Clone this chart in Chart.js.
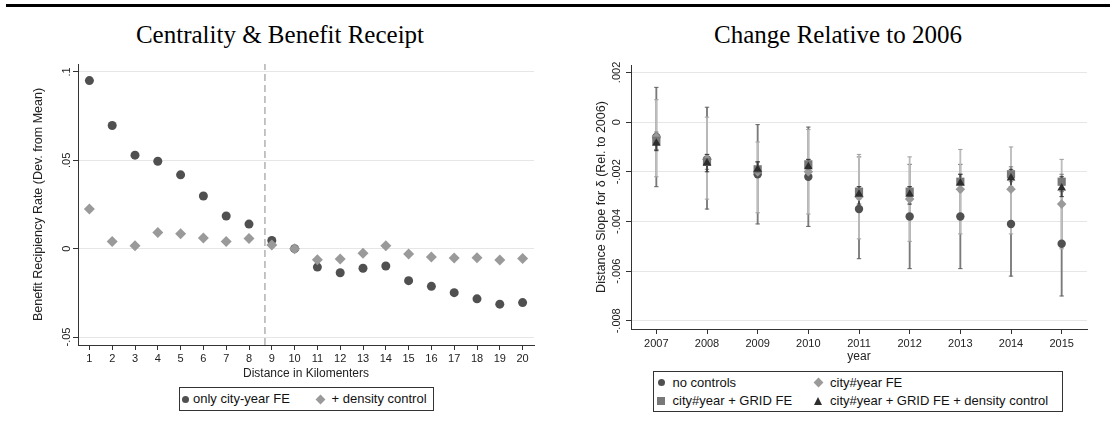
<!DOCTYPE html>
<html><head><meta charset="utf-8">
<script src="https://cdn.jsdelivr.net/npm/chart.js@4/dist/chart.umd.min.js"></script>
<style>
html,body{margin:0;padding:0;background:#fff;width:1110px;height:443px;overflow:hidden;font-family:"Liberation Sans",Arial,sans-serif;}
.rule{position:absolute;left:6px;right:0;top:4px;height:3px;background:#000;}
.title{position:absolute;top:20px;line-height:30px;font-family:"Liberation Serif",serif;font-size:25px;color:#000;transform:translateX(-50%);white-space:nowrap;}
canvas{position:absolute;}
.legend{position:absolute;border:1px solid #333;box-sizing:border-box;}
.item{position:absolute;font-size:13px;line-height:16px;white-space:nowrap;color:#111;transform:translateY(-50%);}
.mk{position:absolute;}
</style></head>
<body>
<div class="rule"></div>
<div class="title" style="left:280px">Centrality &amp; Benefit Receipt</div>
<div class="title" style="left:838px">Change Relative to 2006</div>
<canvas id="c1" width="555" height="385" style="left:0;top:0"></canvas>
<canvas id="c2" width="555" height="370" style="left:555px;top:0"></canvas>
<div id="leg1" class="legend" style="left:179px;top:387px;width:255px;height:24px"></div>
<div id="leg2" class="legend" style="left:653px;top:371px;width:410px;height:41px"></div>
<script>
// ---------- Left panel data ----------
const distances = [1,2,3,4,5,6,7,8,9,10,11,12,13,14,15,16,17,18,19,20];
const onlyCityYearFE = [0.0951,0.0697,0.0529,0.0495,0.0418,0.0298,0.0185,0.0139,0.0047,0,-0.0104,-0.0136,-0.0111,-0.0098,-0.0181,-0.0213,-0.0249,-0.0284,-0.0314,-0.0305];
const plusDensity = [0.0224,0.0040,0.0017,0.0092,0.0085,0.0060,0.0041,0.0058,0.0021,0,-0.0062,-0.0058,-0.0026,0.0017,-0.0030,-0.0047,-0.0053,-0.0051,-0.0064,-0.0056];
const cutoffKm = 8.7;
const leftYTicks = [-0.05,0,0.05,0.1];
const leftYLabels = ['-.05','0','.05','.1'];
const leftLegendLabels = ['only city-year FE','+ density control'];

// ---------- Right panel data ----------
const years = [2007,2008,2009,2010,2011,2012,2013,2014,2015];
const noControls   = [-0.0006,-0.0015,-0.0021,-0.0022,-0.0035,-0.0038,-0.0038,-0.0041,-0.0049];
const noControlsLo = [-0.0026,-0.0035,-0.0041,-0.0042,-0.0055,-0.0059,-0.0059,-0.0062,-0.0070];
const noControlsHi = [0.0014,0.0006,-0.0001,-0.0002,-0.0014,-0.0017,-0.0017,-0.0020,-0.0028];
const cityYearFE   = [-0.0006,-0.0015,-0.0020,-0.0020,-0.0030,-0.0031,-0.0027,-0.0027,-0.0033];
const cityYearFELo = [-0.0022,-0.0031,-0.00365,-0.0037,-0.0047,-0.0048,-0.0045,-0.0045,-0.0051];
const cityYearFEHi = [0.0009,0.0002,-0.0008,-0.0003,-0.0013,-0.0014,-0.0011,-0.0010,-0.0015];
const gridFE       = [-0.00075,-0.0016,-0.0019,-0.0017,-0.0028,-0.0028,-0.0024,-0.0021,-0.0024];
const gridFELo     = [-0.0011,-0.0019,-0.0022,-0.0020,-0.0031,-0.0031,-0.0027,-0.0024,-0.0027];
const gridFEHi     = [-0.0004,-0.0013,-0.0016,-0.0015,-0.0026,-0.0026,-0.0021,-0.0018,-0.0021];
const densityCtl   = [-0.00085,-0.00165,-0.0019,-0.0018,-0.0029,-0.0029,-0.00245,-0.00225,-0.00265];
const densityCtlLo = [-0.00115,-0.0020,-0.0022,-0.0021,-0.0033,-0.0033,-0.0028,-0.0026,-0.0030];
const densityCtlHi = [-0.0005,-0.0013,-0.0016,-0.0015,-0.0026,-0.0026,-0.0021,-0.0019,-0.0022];
const rightYTicks = [-0.008,-0.006,-0.004,-0.002,0,0.002];
const rightYLabels = ['-.008','-.006','-.004','-.002','0','.002'];
const rightLegendLabels = ['no controls','city#year FE','city#year + GRID FE','city#year + GRID FE + density control'];

// ---------- styling ----------
const FAM = '"Liberation Sans", Arial, sans-serif';
const AX = '#333';
const TXT = '#222';
const GRID = '#e6e6e6';
const C_CIRCLE = '#505050', C_DIAMOND = '#9a9a9a', C_SQUARE = '#787878', C_TRI = '#2e2e2e';

function yAxis(min,max,ticks,labels,text,titlePad,width){
  return {
    type:'linear', position:'left', min:min, max:max,
    afterBuildTicks:s=>{ s.ticks = ticks.map(v=>({value:v})); },
    afterFit:s=>{ s.width = width; },
    ticks:{ callback:(v)=>labels[ticks.indexOf(v)], minRotation:90, maxRotation:90, crossAlign:'center',
            padding:-3.5, font:{size:11,family:FAM}, color:TXT, autoSkip:false },
    grid:{ color:GRID, lineWidth:1, tickColor:AX, tickLength:5, drawTicks:true, offset:false },
    border:{ color:AX, width:1 },
    title:{ display:true, text:text, font:{size:12.5,family:FAM}, color:TXT, padding:{top:titlePad,bottom:0} }
  };
}
function xAxis(min,max,ticks,text,height,tickPad,titlePadBottom){
  return {
    type:'linear', position:'bottom', min:min, max:max, offset:false,
    afterBuildTicks:s=>{ s.ticks = ticks.map(v=>({value:v})); },
    afterFit:s=>{ s.height = height; },
    ticks:{ callback:v=>String(v), maxRotation:0, minRotation:0, autoSkip:false, padding:tickPad,
            font:{size:11,family:FAM}, color:TXT },
    grid:{ drawOnChartArea:false, tickColor:AX, tickLength:5, offset:false },
    border:{ color:AX, width:1 },
    title:{ display:true, text:text, font:{size:12,family:FAM}, color:TXT, padding:{top:0,bottom:titlePadBottom} }
  };
}
const common = {
  responsive:false, devicePixelRatio:1, animation:false,
  plugins:{ legend:{display:false}, tooltip:{enabled:false} },
  events:[]
};

// ---------- Left chart ----------
const L_YMIN = -0.0545, L_YMAX = 0.1045;
new Chart(document.getElementById('c1'), {
  type:'scatter',
  data:{ datasets:[
    { type:'line', data:[{x:cutoffKm,y:L_YMIN},{x:cutoffKm,y:L_YMAX}], borderColor:'#8a8a8a', borderWidth:1,
      borderDash:[7,4], pointRadius:0, order:5 },
    { label:leftLegendLabels[0], data:distances.map((d,i)=>({x:d,y:onlyCityYearFE[i]})), pointStyle:'circle',
      pointRadius:4.5, backgroundColor:C_CIRCLE, borderColor:C_CIRCLE, borderWidth:0, order:2 },
    { label:leftLegendLabels[1], data:distances.map((d,i)=>({x:d,y:plusDensity[i]})), pointStyle:'rectRot',
      pointRadius:5.5, backgroundColor:C_DIAMOND, borderColor:C_DIAMOND, borderWidth:0, order:1 }
  ]},
  options:Object.assign({}, common, {
    layout:{ padding:{ top:64, left:0, right:21, bottom:0 } },
    scales:{
      x: xAxis(0.5, 20.5, distances, 'Distance in Kilomenters', 40, 2, 3.8),
      y: yAxis(L_YMIN, L_YMAX, leftYTicks, leftYLabels, 'Benefit Recipiency Rate (Dev. from Mean)', 31.5, 78)
    }
  })
});

// ---------- Right chart ----------
const R_YMIN = -0.00833, R_YMAX = 0.0023;
function ciBars(lo,hi,color,order){
  return { type:'bar', data:years.map((y,i)=>({x:y,y:[lo[i],hi[i]]})), backgroundColor:color, borderWidth:0,
           barThickness:1.2, grouped:false, order:order };
}
function ciCaps(lo,hi,color,order){
  const pts = [];
  years.forEach((y,i)=>{ pts.push({x:y,y:lo[i]}); pts.push({x:y,y:hi[i]}); });
  return { type:'scatter', data:pts, pointStyle:'line', pointRadius:2.2, borderColor:color, borderWidth:1,
           showLine:false, order:order };
}
function pts(vals,style,r,color,order,label){
  return { type:'scatter', label:label, data:years.map((y,i)=>({x:y,y:vals[i]})), pointStyle:style, pointRadius:r,
           backgroundColor:color, borderColor:color, borderWidth:0, order:order };
}
new Chart(document.getElementById('c2'), {
  type:'scatter',
  data:{ datasets:[
    ciBars(noControlsLo, noControlsHi, '#7a7a7a', 20),
    ciCaps(noControlsLo, noControlsHi, '#666666', 19),
    ciBars(cityYearFELo, cityYearFEHi, '#bdbdbd', 18),
    ciCaps(cityYearFELo, cityYearFEHi, '#a0a0a0', 17),
    ciBars(gridFELo, gridFEHi, '#939393', 16),
    ciCaps(gridFELo, gridFEHi, '#808080', 15),
    ciBars(densityCtlLo, densityCtlHi, '#444444', 14),
    ciCaps(densityCtlLo, densityCtlHi, '#3a3a3a', 13),
    pts(noControls, 'circle', 4.2, C_CIRCLE, 4, rightLegendLabels[0]),
    pts(cityYearFE, 'rectRot', 4.8, C_DIAMOND, 3, rightLegendLabels[1]),
    pts(gridFE, 'rect', 5.8, C_SQUARE, 2, rightLegendLabels[2]),
    pts(densityCtl, 'triangle', 5, C_TRI, 1, rightLegendLabels[3])
  ]},
  options:Object.assign({}, common, {
    layout:{ padding:{ top:65, left:0, right:23, bottom:0 } },
    scales:{
      x: xAxis(2006.5, 2015.5, years, 'year', 41, 3, 6.1),
      y: yAxis(R_YMIN, R_YMAX, rightYTicks, rightYLabels, 'Distance Slope for δ (Rel. to 2006)', 39.5, 76)
    }
  })
});

// ---------- Legends (HTML) ----------
function marker(shape,color,cx,cy){
  const m = document.createElement('span'); m.className='mk';
  let s = '';
  if(shape==='circle') s = `left:${cx-3.5}px;top:${cy-3.5}px;width:7px;height:7px;border-radius:50%;background:${color};`;
  if(shape==='diamond') s = `left:${cx-3.5}px;top:${cy-3.5}px;width:7px;height:7px;transform:rotate(45deg);background:${color};`;
  if(shape==='square') s = `left:${cx-4}px;top:${cy-4}px;width:8px;height:8px;background:${color};`;
  if(shape==='triangle') s = `left:${cx-4.5}px;top:${cy-4.5}px;width:0;height:0;border-left:4.5px solid transparent;border-right:4.5px solid transparent;border-bottom:8px solid ${color};`;
  m.style.cssText = s; return m;
}
function addItem(box,boxX,boxY,shape,color,mx,tx,cy,text){
  box.appendChild(marker(shape,color,mx-boxX-1,cy-boxY-1));
  const t = document.createElement('span'); t.className='item'; t.textContent=text;
  t.style.left=(tx-boxX-1)+'px'; t.style.top=(cy-boxY-1)+'px'; box.appendChild(t);
}
const leg1 = document.getElementById('leg1');
addItem(leg1,179,387,'circle',C_CIRCLE,185,193,399,leftLegendLabels[0]);
addItem(leg1,179,387,'diamond',C_DIAMOND,320,331.5,399,leftLegendLabels[1]);
const leg2 = document.getElementById('leg2');
addItem(leg2,653,371,'circle',C_CIRCLE,661,672.5,382.7,rightLegendLabels[0]);
addItem(leg2,653,371,'diamond',C_DIAMOND,818.7,830,382.7,rightLegendLabels[1]);
addItem(leg2,653,371,'square',C_SQUARE,661,672.5,401.3,rightLegendLabels[2]);
addItem(leg2,653,371,'triangle',C_TRI,818.7,830,401.3,rightLegendLabels[3]);
</script>
</body></html>
